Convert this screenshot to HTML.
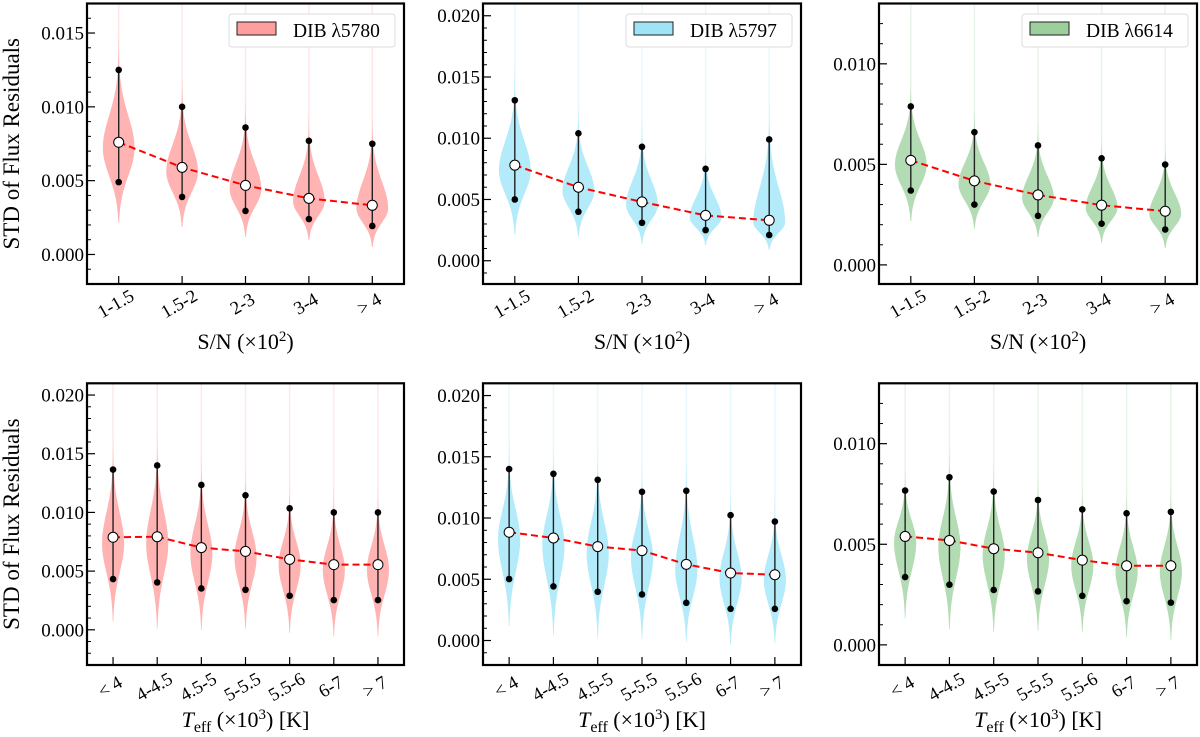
<!DOCTYPE html>
<html><head><meta charset="utf-8">
<style>
html,body{margin:0;padding:0;background:#fff;}
svg{display:block;}
svg text{font-family:"Liberation Serif","DejaVu Serif",serif;}
</style></head>
<body>
<svg id="fig" width="1200" height="737" viewBox="0 0 1200 737" xmlns="http://www.w3.org/2000/svg" font-family="Liberation Serif, serif"></svg>
<script>
// ---- data ----
const snCats = ["1-1.5","1.5-2","2-3","3-4","> 4"];
const tempCats = ["< 4","4-4.5","4.5-5","5-5.5","5.5-6","6-7","> 7"];

const p1Med = [0.0076,0.0059,0.00468,0.0038,0.00333];
const p1Lo  = [0.0049,0.0039,0.00295,0.0024,0.00193];
const p1Hi  = [0.0125,0.0100,0.0086,0.0077,0.0075];

const p2Med = [0.0078,0.0060,0.0048,0.0037,0.0033];
const p2Lo  = [0.0050,0.0040,0.0031,0.0025,0.0021];
const p2Hi  = [0.0131,0.0104,0.0093,0.0075,0.0099];

const p3Med = [0.0052,0.00418,0.00348,0.00297,0.00267];
const p3Lo  = [0.0037,0.0030,0.00244,0.00205,0.00176];
const p3Hi  = [0.00788,0.0066,0.00594,0.0053,0.00499];

const p4Med = [0.00788,0.00793,0.0070,0.00668,0.0060,0.00555,0.00555];
const p4Lo  = [0.00432,0.00404,0.00352,0.00341,0.0029,0.00253,0.00253];
const p4Hi  = [0.01365,0.0140,0.01234,0.01146,0.01035,0.0100,0.0100];

const p5Med = [0.00884,0.00837,0.00767,0.00734,0.00622,0.00551,0.00537];
const p5Lo  = [0.00502,0.00442,0.00398,0.00376,0.00308,0.00259,0.00259];
const p5Hi  = [0.0140,0.01361,0.01312,0.01214,0.01222,0.01023,0.00971];

const p6Med = [0.00539,0.00519,0.00478,0.00458,0.00421,0.00393,0.00393];
const p6Lo  = [0.00337,0.00299,0.00273,0.00266,0.00244,0.00217,0.0021];
const p6Hi  = [0.00767,0.00833,0.00762,0.0072,0.00673,0.00654,0.00661];

const yTicksA = [0.000,0.005,0.010,0.015];
const yTicksB = [0.000,0.005,0.010,0.015,0.020];
const yTicksC = [0.000,0.005,0.010];

const legendLabels = ["DIB \u03bb5780","DIB \u03bb5797","DIB \u03bb6614"];

// ---- layout ----
const NS="http://www.w3.org/2000/svg";
const svg=document.getElementById('fig');
const FF="Liberation Serif, DejaVu Serif, serif";
function mk(tag,attrs,parent){const e=document.createElementNS(NS,tag);for(const k in attrs)e.setAttribute(k,attrs[k]);if(tag==='text')e.setAttribute('font-family',FF);(parent||svg).appendChild(e);return e;}

const colors=[{fill:"#ffb3b3",leg:"#ff9e9e"},{fill:"#b3ebfa",leg:"#9fe3f7"},{fill:"#b4dcb4",leg:"#9dcf9d"}];
const panels=[
 {x0:87,x1:404,y0:3.5,y1:284,ymin:-0.002,ymax:0.017,cats:snCats,med:p1Med,lo:p1Lo,hi:p1Hi,ticks:yTicksA,pad:0.5,c:0,leg:0,ylab:true,row:0},
 {x0:483,x1:801,y0:3.5,y1:284,ymin:-0.0019,ymax:0.021,cats:snCats,med:p2Med,lo:p2Lo,hi:p2Hi,ticks:yTicksB,pad:0.5,c:1,leg:1,row:0},
 {x0:879,x1:1197,y0:3.5,y1:284,ymin:-0.00095,ymax:0.013,cats:snCats,med:p3Med,lo:p3Lo,hi:p3Hi,ticks:yTicksC,pad:0.5,c:2,leg:2,row:0},
 {x0:87,x1:404,y0:383.3,y1:665,ymin:-0.003,ymax:0.021,cats:tempCats,med:p4Med,lo:p4Lo,hi:p4Hi,ticks:yTicksB,pad:0.59,c:0,ylab:true,row:1},
 {x0:483,x1:801,y0:383.3,y1:665,ymin:-0.002,ymax:0.021,cats:tempCats,med:p5Med,lo:p5Lo,hi:p5Hi,ticks:yTicksB,pad:0.59,c:1,row:1},
 {x0:879,x1:1197,y0:383.3,y1:665,ymin:-0.001,ymax:0.013,cats:tempCats,med:p6Med,lo:p6Lo,hi:p6Hi,ticks:yTicksC,pad:0.59,c:2,row:1}
];

panels.forEach((p,pi)=>{
  const g=mk('g',{});
  
  
  const n=p.cats.length;
  const step=(p.x1-p.x0)/(n-1+2*p.pad);
  const sx=i=>p.x0+(i+p.pad)*step;
  const sy=v=>p.y1-(v-p.ymin)/(p.ymax-p.ymin)*(p.y1-p.y0);
  const clipId='clip'+pi;
  const cp=mk('clipPath',{id:clipId},g);
  mk('rect',{x:p.x0,y:p.y0,width:p.x1-p.x0,height:p.y1-p.y0},cp);
  const plot=mk('g',{'clip-path':'url(#'+clipId+')'},g);
  const col=colors[p.c];
  const Wh=0.25*step;
  for(let i=0;i<n;i++){
    const med=p.med[i],lo=p.lo[i],hi=p.hi[i];
    const m=med-0.15*(med-lo);
    const sL=(m-lo)/1.23, sH=(hi-m)/2.4;
    const vmin=m-2.7*sL, vmax=m+3.4*sH;
    const pts=[];
    const N=50;
    for(let k=0;k<=N;k++){const v=vmin+(m-vmin)*k/N;const w=Wh*Math.exp(-0.5*((v-m)/sL)**2);pts.push([v,w]);}
    for(let k=1;k<=N;k++){const v=m+(vmax-m)*k/N;const w=Wh*Math.exp(-0.5*((v-m)/sH)**2);pts.push([v,w]);}
    let d='M'+pts.map(q=>(sx(i)-q[1]).toFixed(2)+','+sy(q[0]).toFixed(2)).join('L');
    d+='L'+pts.slice().reverse().map(q=>(sx(i)+q[1]).toFixed(2)+','+sy(q[0]).toFixed(2)).join('L')+'Z';
    const tail=mk('line',{x1:sx(i),x2:sx(i),y1:sy(hi),y2:p.y0,stroke:col.fill,'stroke-width':1.5,opacity:0.3},plot);
    
    
    const vp=mk('path',{d:d,fill:col.fill},plot);
    
    
    const ln=mk('line',{x1:sx(i),x2:sx(i),y1:sy(lo),y2:sy(hi),stroke:'#222','stroke-width':1.4},plot);
    
    
    const d1=mk('circle',{cx:sx(i),cy:sy(lo),r:3.3,fill:'#000'},plot);
    
    
    const d2=mk('circle',{cx:sx(i),cy:sy(hi),r:3.3,fill:'#000'},plot);
    
    
  }
  const dl=mk('polyline',{points:p.med.map((v,i)=>sx(i).toFixed(2)+','+sy(v).toFixed(2)).join(' '),fill:'none',stroke:'#f00','stroke-width':2,'stroke-dasharray':'7 4'},plot);
  
  
  for(let i=0;i<n;i++){
    const mc=mk('circle',{cx:sx(i),cy:sy(p.med[i]),r:5,fill:'#fff',stroke:'#000','stroke-width':1},plot);
    
    
  }
  for(let k=Math.ceil(p.ymin*1000);k<=Math.floor(p.ymax*1000);k++){
    if(k%5===0)continue;
    mk('line',{x1:p.x0,x2:p.x0+4,y1:sy(k/1000),y2:sy(k/1000),stroke:'#000','stroke-width':1},g);
  }
  p.ticks.forEach(t=>{
    mk('line',{x1:p.x0,x2:p.x0+8,y1:sy(t),y2:sy(t),stroke:'#000','stroke-width':1.2},g);
    const tl=mk('text',{x:p.x0-3,y:sy(t)+6.5,'text-anchor':'end','font-size':19,fill:'#000'},g);
    tl.textContent=t.toFixed(3);
    
    
  });
  p.cats.forEach((c,i)=>{
    mk('line',{x1:sx(i),x2:sx(i),y1:p.y1,y2:p.y1-8,stroke:'#000','stroke-width':1.2},g);
    const ty=p.y1+(p.row===0?25:27);
    const tl=mk('text',{x:sx(i),y:ty,'text-anchor':'middle','font-size':18.5,fill:'#000',transform:'rotate(-30 '+sx(i)+' '+ty+')'},g);
    tl.textContent=c;
    
    
  });
  const fr=mk('rect',{x:p.x0,y:p.y0,width:p.x1-p.x0,height:p.y1-p.y0,fill:'none',stroke:'#000','stroke-width':2.2},g);
  
  
  const cx=(p.x0+p.x1)/2;
  const xl=mk('text',{x:cx,y:p.row===0?349:727,'text-anchor':'middle','font-size':22,fill:'#000'},g);
  if(p.row===0){xl.innerHTML='S/N (\u00d710<tspan dy="-8" font-size="15">2</tspan><tspan dy="8">)</tspan>';}
  else{xl.innerHTML='<tspan font-style="italic">T</tspan><tspan dy="5" font-size="16">eff</tspan><tspan dy="-5"> (\u00d710</tspan><tspan dy="-8" font-size="15">3</tspan><tspan dy="8">) [K]</tspan>';}
  
  
  if(p.ylab){
    const yc=(p.y0+p.y1)/2;
    const yl=mk('text',{x:19,y:yc,'text-anchor':'middle','font-size':23,fill:'#000',transform:'rotate(-90 19 '+yc+')'},g);
    yl.textContent='STD of Flux Residuals';
    
    
  }
  if(p.leg!==undefined){
    const lx=p.x1-175, ly=14;
    const lg=mk('g',{},g);
    
    
    mk('rect',{x:lx,y:ly,width:166,height:33,rx:3,fill:'#fff',stroke:'#ddd','stroke-width':1},lg);
    const pt=mk('rect',{x:lx+8,y:ly+8,width:39,height:13,fill:col.leg,stroke:'#222','stroke-width':1},lg);
    
    
    const lt=mk('text',{x:lx+64,y:ly+23,'font-size':19.5,fill:'#000'},lg);
    lt.textContent=legendLabels[p.leg];
    
    
  }
});
</script>
</body></html>
